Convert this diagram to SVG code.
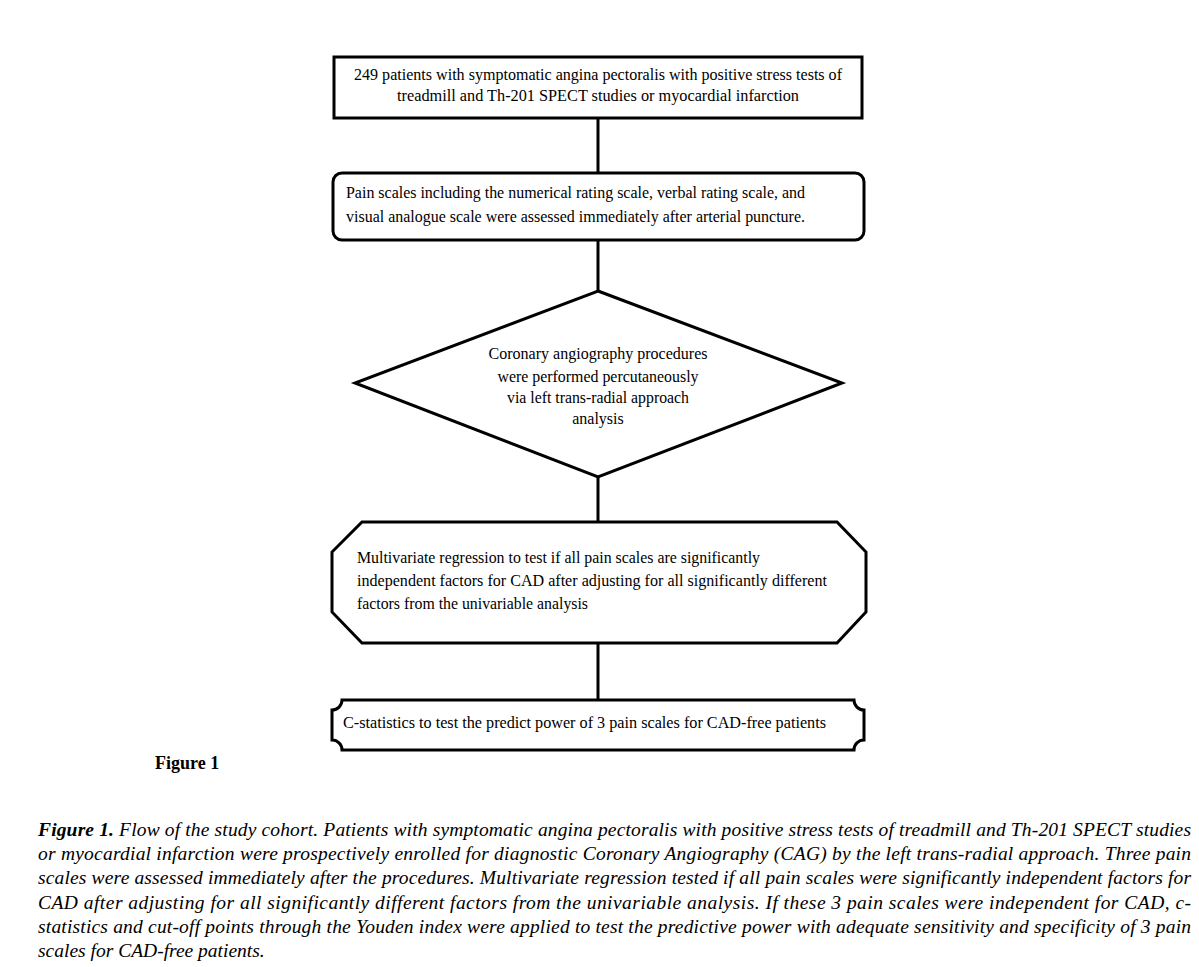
<svg xmlns="http://www.w3.org/2000/svg" width="1199" height="967" viewBox="0 0 1199 967">
<style>
.shape{fill:#fff;stroke:#000;stroke-width:3}
.conn line{stroke:#000;stroke-width:3}
.t{font-family:"Liberation Serif","Times New Roman",serif;font-size:16px;fill:#000}
.c{text-anchor:middle}
.cap{font-family:"Liberation Serif","Times New Roman",serif;font-size:19.5px;font-style:italic;fill:#000}
</style>
<rect width="1199" height="967" fill="#fff"/>
<g class="conn" id="connectors">
<line x1="598" y1="118" x2="598" y2="173"/>
<line x1="598" y1="240" x2="598" y2="291"/>
<line x1="598" y1="477" x2="598" y2="522"/>
<line x1="598" y1="643" x2="598" y2="700"/>
</g>
<g id="n1">
<rect class="shape" x="334" y="57" width="528" height="61"/>
<text class="t c" x="598" y="80" textLength="488" lengthAdjust="spacingAndGlyphs">249 patients with symptomatic angina pectoralis with positive stress tests of</text>
<text class="t c" x="598" y="101" textLength="402" lengthAdjust="spacingAndGlyphs">treadmill and Th-201 SPECT studies or myocardial infarction</text>
</g>
<g id="n2">
<rect class="shape" x="333" y="173" width="531" height="67" rx="9"/>
<text class="t" x="346" y="198" textLength="459" lengthAdjust="spacingAndGlyphs">Pain scales including the numerical rating scale, verbal rating scale, and</text>
<text class="t" x="346" y="222" textLength="459" lengthAdjust="spacingAndGlyphs">visual analogue scale were assessed immediately after arterial puncture.</text>
</g>
<g id="n3">
<polygon class="shape" points="598,291 842,383 598,477 355,383"/>
<text class="t c" x="598" y="359" textLength="219" lengthAdjust="spacingAndGlyphs">Coronary angiography procedures</text>
<text class="t c" x="598" y="382" textLength="201" lengthAdjust="spacingAndGlyphs">were performed percutaneously</text>
<text class="t c" x="598" y="403" textLength="182" lengthAdjust="spacingAndGlyphs">via left trans-radial approach</text>
<text class="t c" x="598" y="424">analysis</text>
</g>
<g id="n4">
<polygon class="shape" points="362,522 837,522 866,552 866,612 837,643 362,643 332,612 332,552"/>
<text class="t" x="357" y="563" textLength="403" lengthAdjust="spacingAndGlyphs">Multivariate regression to test if all pain scales are significantly</text>
<text class="t" x="357" y="586" textLength="470" lengthAdjust="spacingAndGlyphs">independent factors for CAD after adjusting for all significantly different</text>
<text class="t" x="357" y="609" textLength="231" lengthAdjust="spacingAndGlyphs">factors from the univariable analysis</text>
</g>
<g id="n5">
<path class="shape" d="M342,700 H854 A10,10 0 0 0 864,710 V740 A10,10 0 0 0 854,750 H342 A10,10 0 0 0 332,740 V710 A10,10 0 0 0 342,700 Z"/>
<text class="t" x="343" y="728" textLength="483" lengthAdjust="spacingAndGlyphs">C-statistics to test the predict power of 3 pain scales for CAD-free patients</text>
</g>
<text x="155" y="769" font-family="Liberation Serif, Times New Roman, serif" font-size="18" font-weight="bold">Figure 1</text>
<g id="caption">
<text class="cap" x="38" y="836" textLength="1153" lengthAdjust="spacing"><tspan font-weight="bold">Figure 1.</tspan> Flow of the study cohort. Patients with symptomatic angina pectoralis with positive stress tests of treadmill and Th-201 SPECT studies</text>
<text class="cap" x="38" y="860" textLength="1153" lengthAdjust="spacing">or myocardial infarction were prospectively enrolled for diagnostic Coronary Angiography (CAG) by the left trans-radial approach. Three pain</text>
<text class="cap" x="38" y="884" textLength="1153" lengthAdjust="spacing">scales were assessed immediately after the procedures. Multivariate regression tested if all pain scales were significantly independent factors for</text>
<text class="cap" x="38" y="909" textLength="1153" lengthAdjust="spacing">CAD after adjusting for all significantly different factors from the univariable analysis. If these 3 pain scales were independent for CAD, c-</text>
<text class="cap" x="38" y="933" textLength="1153" lengthAdjust="spacing">statistics and cut-off points through the Youden index were applied to test the predictive power with adequate sensitivity and specificity of 3 pain</text>
<text class="cap" x="38" y="957">scales for CAD-free patients.</text>
</g>
</svg>
